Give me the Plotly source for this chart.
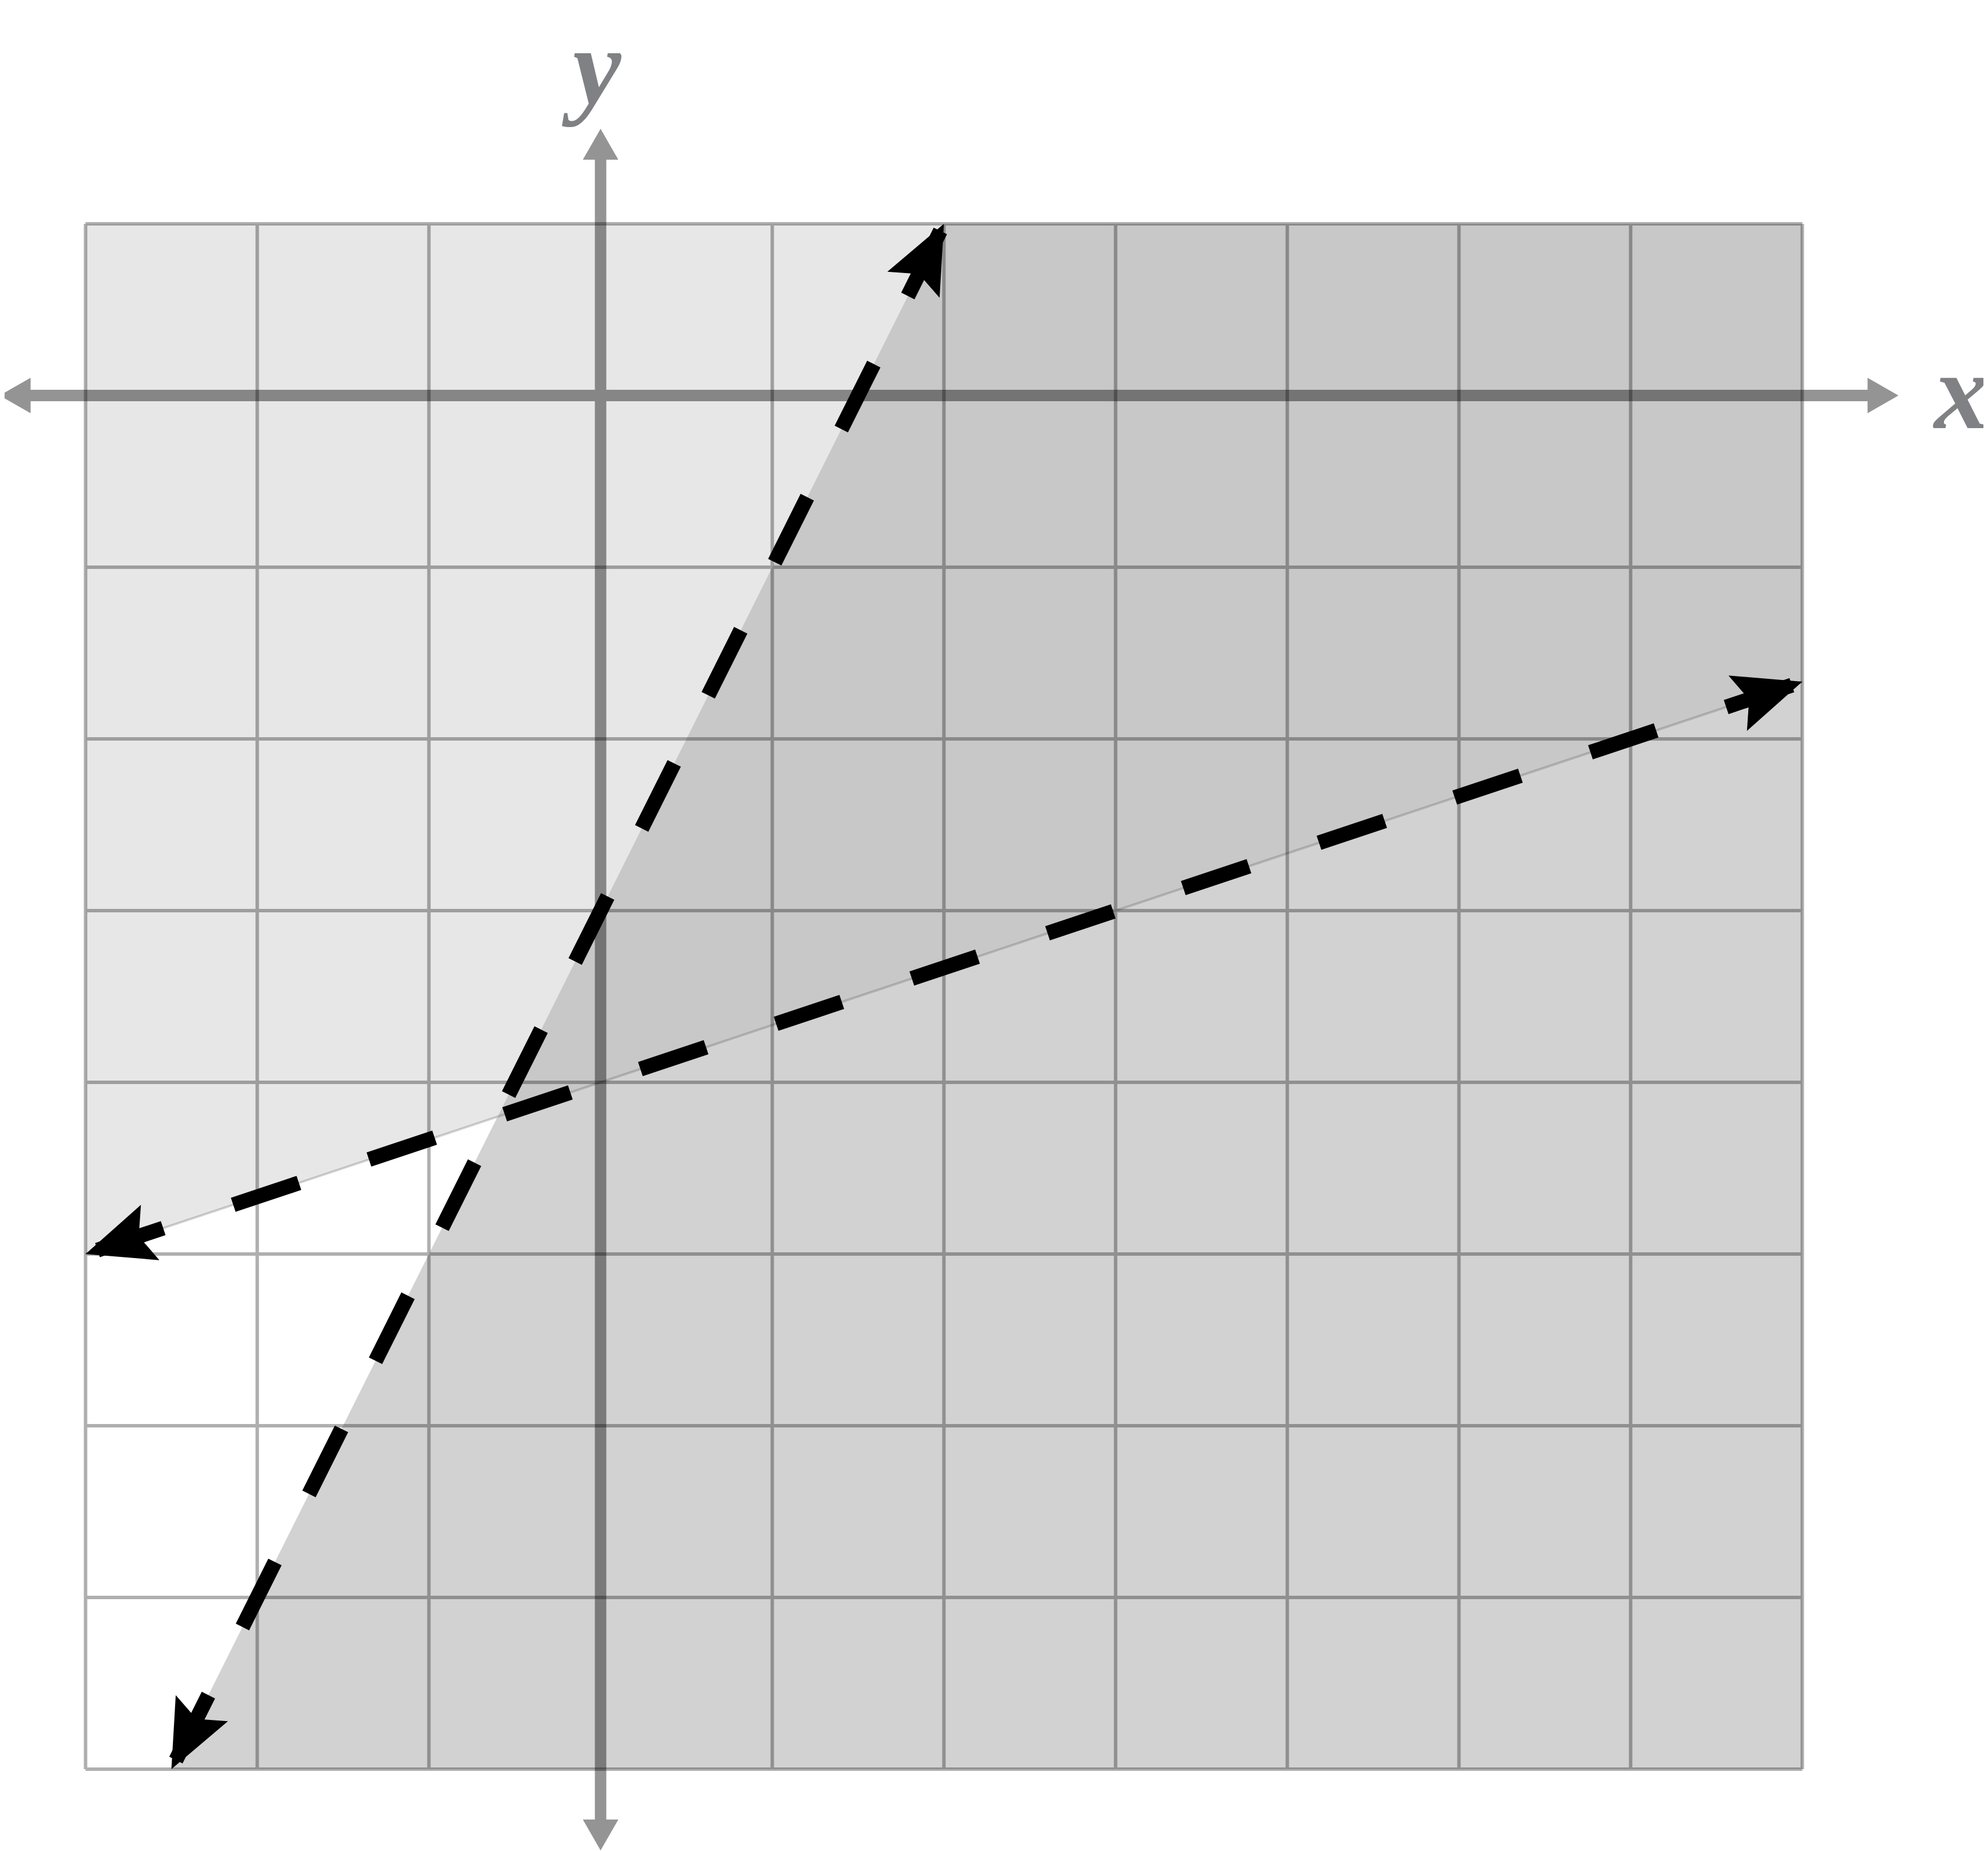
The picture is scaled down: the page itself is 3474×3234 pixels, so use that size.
import plotly.graph_objects as go

# ---------------- data ----------------
x_ticks = [-3, -2, -1, 0, 1, 2, 3, 4, 5, 6, 7]
y_ticks = [1, 0, -1, -2, -3, -4, -5, -6, -7, -8]
line_slopes = [2.0, 1.0 / 3.0]        # steep line, shallow line
line_intercepts = [-3.0, -4.0]
axis_labels = ["x", "y"]

# ---------------- styles / geometry constants ----------------
X_MIN, X_MAX = min(x_ticks), max(x_ticks)
Y_MIN, Y_MAX = min(y_ticks), max(y_ticks)
PX = 300.0  # pixels per unit
GRID_LEFT_PX = 141.5   # figure pixel of x = X_MIN (page has an 8px body margin)
GRID_TOP_PX = 383.0    # figure pixel of y = Y_MAX

COL_LIGHT = "#e7e7e7"
COL_OVER = "#c7c8c7"
COL_MED = "#d2d2d2"

X_AXIS_EXT = (-3.5, 7.56)
Y_AXIS_EXT = (-8.473, 1.553)
AX_HEAD_LEN = 54 / PX
AX_HEAD_HALF = 31 / PX
AX_BAR_HALF = 10 / PX

ARR_LEN = 119 / PX
ARR_HALF = 51 / PX
ARR_NOTCH = 98 / PX


def clip(poly, a, b, c):
    """keep part of polygon with a*x + b*y + c >= 0"""
    out = []
    n = len(poly)
    for i in range(n):
        p = poly[i]
        q = poly[(i + 1) % n]
        fp = a * p[0] + b * p[1] + c
        fq = a * q[0] + b * q[1] + c
        if fp >= 0:
            out.append(p)
        if (fp >= 0) != (fq >= 0):
            t = fp / (fp - fq)
            out.append((p[0] + t * (q[0] - p[0]), p[1] + t * (q[1] - p[1])))
    return out


def above(i):
    return (-line_slopes[i], 1.0, -line_intercepts[i])


def below(i):
    a, b, c = above(i)
    return (-a, -b, -c)


box = [(X_MIN, Y_MIN), (X_MAX, Y_MIN), (X_MAX, Y_MAX), (X_MIN, Y_MAX)]
reg_light = clip(clip(box, *above(0)), *above(1))
reg_over = clip(clip(box, *below(0)), *above(1))
reg_med = clip(clip(box, *below(0)), *below(1))

fig = go.Figure()


def add_poly(poly, color, opacity=1.0):
    xs = [p[0] for p in poly] + [poly[0][0]]
    ys = [p[1] for p in poly] + [poly[0][1]]
    fig.add_trace(go.Scatter(x=xs, y=ys, mode="lines", fill="toself",
                             fillcolor=color, line=dict(width=0, color=color),
                             opacity=opacity, hoverinfo="skip"))


add_poly(reg_light, COL_LIGHT)
add_poly(reg_over, COL_OVER)
add_poly(reg_med, COL_MED)

# grid
gx, gy = [], []
for xv in x_ticks:
    if xv == 0:
        continue
    gx += [xv, xv, None]
    gy += [Y_MIN, Y_MAX, None]
for yv in y_ticks:
    if yv == 0:
        continue
    gx += [X_MIN, X_MAX, None]
    gy += [yv, yv, None]
fig.add_trace(go.Scatter(x=gx, y=gy, mode="lines", line=dict(color="black", width=6),
                         opacity=0.31, hoverinfo="skip"))

# axes: one cross-shaped polygon with four arrowheads
x0, x1 = X_AXIS_EXT
y0, y1 = Y_AXIS_EXT
h, w, t = AX_HEAD_LEN, AX_HEAD_HALF, AX_BAR_HALF
cross = [(x0, 0), (x0 + h, w), (x0 + h, t), (-t, t), (-t, y1 - h), (-w, y1 - h), (0, y1),
         (w, y1 - h), (t, y1 - h), (t, t), (x1 - h, t), (x1 - h, w), (x1, 0), (x1 - h, -w),
         (x1 - h, -t), (t, -t), (t, y0 + h), (w, y0 + h), (0, y0), (-w, y0 + h), (-t, y0 + h),
         (-t, -t), (x0 + h, -t), (x0 + h, -w)]
add_poly(cross, "black", opacity=0.42)


def seg(i):
    m, b = line_slopes[i], line_intercepts[i]
    xa_ = max(X_MIN, (Y_MIN - b) / m)
    xb_ = min(X_MAX, (Y_MAX - b) / m)
    return (xa_, m * xa_ + b), (xb_, m * xb_ + b)


# steep line drawn from top to bottom, shallow line from left to right
s_lo, s_hi = seg(0)
h_lo, h_hi = seg(1)

# thin guide line under shallow dashes
fig.add_trace(go.Scatter(x=[h_lo[0], h_hi[0]], y=[h_lo[1], h_hi[1]], mode="lines",
                         line=dict(color="black", width=4), opacity=0.17, hoverinfo="skip"))

dash_steep = "0px,14px," + ",".join(["127px,133px"] * 12)
dash_shallow = "0px,22px," + ",".join(["121px,129px"] * 13)
fig.add_trace(go.Scatter(x=[s_hi[0], s_lo[0]], y=[s_hi[1], s_lo[1]], mode="lines",
                         line=dict(color="black", width=26, dash=dash_steep), hoverinfo="skip"))
fig.add_trace(go.Scatter(x=[h_lo[0], h_hi[0]], y=[h_lo[1], h_hi[1]], mode="lines",
                         line=dict(color="black", width=26, dash=dash_shallow), hoverinfo="skip"))


def arrowhead(tip, frm):
    dx, dy = tip[0] - frm[0], tip[1] - frm[1]
    L = (dx * dx + dy * dy) ** 0.5
    ux, uy = dx / L, dy / L
    nx, ny = -uy, ux
    return [tip,
            (tip[0] - ARR_LEN * ux + ARR_HALF * nx, tip[1] - ARR_LEN * uy + ARR_HALF * ny),
            (tip[0] - ARR_NOTCH * ux, tip[1] - ARR_NOTCH * uy),
            (tip[0] - ARR_LEN * ux - ARR_HALF * nx, tip[1] - ARR_LEN * uy - ARR_HALF * ny)]


for tip, frm in [(s_hi, s_lo), (s_lo, s_hi), (h_hi, h_lo), (h_lo, h_hi)]:
    add_poly(arrowhead(tip, frm), "black")

label_font = dict(family="Liberation Serif", size=190, color="#808184", weight="bold", style="italic")
fig.add_annotation(x=7.92, y=0.023, xref="x", yref="y", text=axis_labels[0], showarrow=False,
                   xanchor="center", yanchor="middle", font=label_font)
fig.add_annotation(x=-0.055, y=1.912, xref="x", yref="y", text=axis_labels[1], showarrow=False,
                   xanchor="center", yanchor="middle", font=label_font)

W, H = 3474, 3234
x_lo = X_MIN - GRID_LEFT_PX / PX
x_hi = X_MIN + (W - GRID_LEFT_PX) / PX
y_top = Y_MAX + GRID_TOP_PX / PX
y_bot = Y_MAX - (H - GRID_TOP_PX) / PX

fig.update_layout(
    width=W, height=H, margin=dict(l=0, r=0, t=0, b=0),
    paper_bgcolor="white", plot_bgcolor="white", showlegend=False,
    xaxis=dict(range=[x_lo, x_hi], visible=False, fixedrange=True),
    yaxis=dict(range=[y_bot, y_top], visible=False, fixedrange=True),
)

fig.write_html("out.html")
